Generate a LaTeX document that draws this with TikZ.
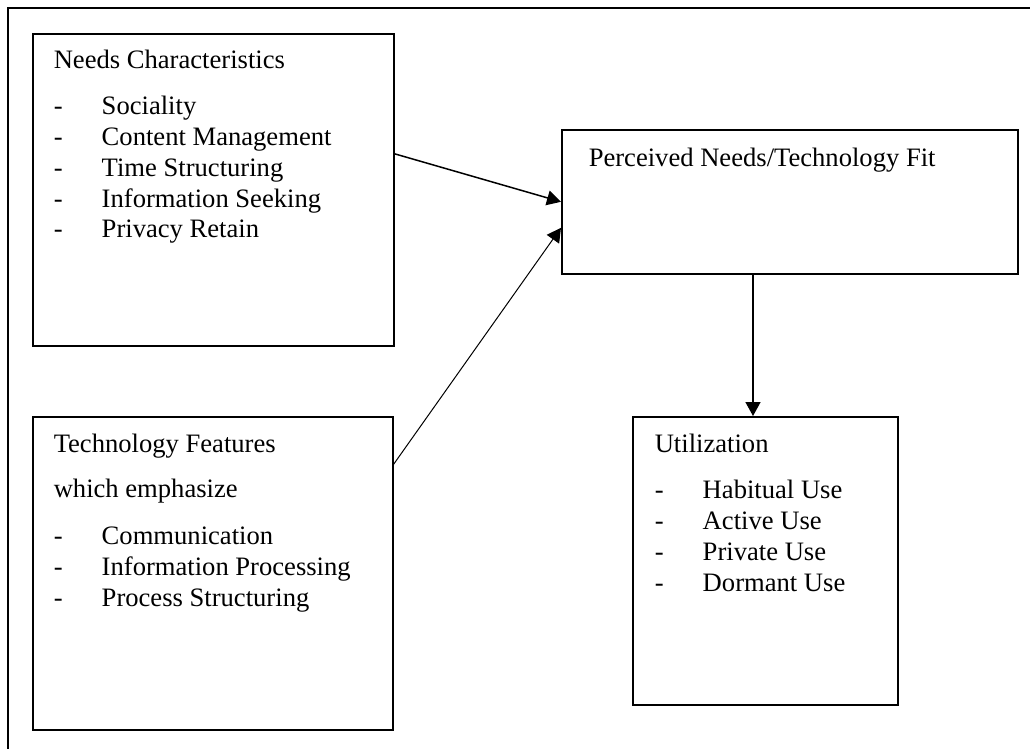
\documentclass[tikz,border=0pt]{standalone}
\usepackage{fontspec}
\setmainfont{Liberation Serif}
\usetikzlibrary{positioning,arrows.meta,calc}
\tikzset{every picture/.style={>={Triangle[width=15pt,length=14pt]},line width=1.5pt}}
\tikzset{model box/.style={draw,line width=1.6pt,inner sep=0pt,anchor=north west}}
\tikzset{box text/.style={inner sep=0pt,align=left,font=\fontsize{26.6}{30.7}\selectfont}}
\newcommand{\itm}[1]{\makebox[48pt][l]{-}#1}

\begin{document}
\begin{tikzpicture}[x=1pt,y=-1pt]
      \useasboundingbox (0,0) rectangle (1030,748);
      \clip (0,0) rectangle (1030,748);
      \draw [line width=2.2pt] (1040,8) -- (8,8) -- (8,760);
      % boxes
      \node [model box,minimum width=361pt,minimum height=312pt] (needs) at (32,33) {};
      \node [model box,minimum width=456pt,minimum height=144pt] (fit) at (561,129) {};
      \node [model box,minimum width=360pt,minimum height=313pt] (tech) at (32,416) {};
      \node [model box,minimum width=265pt,minimum height=288pt] (util) at (632,416) {};
      % texts
      \node [box text,below right=16pt and 21pt of needs.north west] (needstext)
        {Needs Characteristics\\[16pt]
         \itm{Sociality}\\ \itm{Content Management}\\ \itm{Time Structuring}\\
         \itm{Information Seeking}\\ \itm{Privacy Retain}};
      \node [box text,below right=18pt and 27pt of fit.north west] (fittext)
        {Perceived Needs/Technology Fit};
      \node [box text,below right=17pt and 21pt of tech.north west] (techtext)
        {Technology Features\\[15pt]
         which emphasize\\[16pt]
         \itm{Communication}\\ \itm{Information Processing}\\ \itm{Process Structuring}};
      \node [box text,below right=17pt and 22pt of util.north west] (utiltext)
        {Utilization\\[16pt]
         \itm{Habitual Use}\\ \itm{Active Use}\\ \itm{Private Use}\\ \itm{Dormant Use}};
      % arrows
      \draw[->] ([yshift=36pt]needs.east) -- (fit.west);
      \draw[->,line width=1pt] ([yshift=109pt]tech.east) -- ([yshift=-26pt]fit.west);
      \coordinate (fitout) at ([xshift=192pt]fit.south west);
      \draw[->] (fitout) -- (fitout |- util.north);
\end{tikzpicture}
\end{document}
